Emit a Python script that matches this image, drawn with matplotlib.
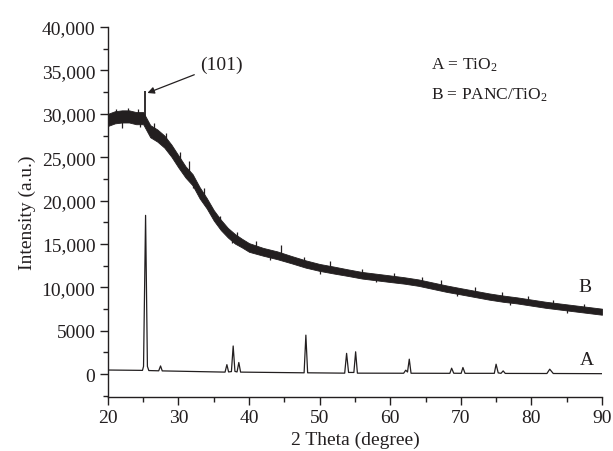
"""XRD patterns of TiO2 (A) and PANC/TiO2 (B)."""

import matplotlib

matplotlib.use("Agg")
import matplotlib.pyplot as plt
import numpy as np
from matplotlib.ticker import FuncFormatter, MultipleLocator

# curve A: TiO2, baseline points plus the reflections
a_theta = [20.0, 24.9, 25.05, 25.34, 25.6, 25.8, 27.2, 27.46, 27.7,
           36.6, 36.86, 37.1, 37.5, 37.75, 38.0, 38.3, 38.55, 38.8,
           47.8, 48.05, 48.3, 53.55, 53.82, 54.1, 54.85, 55.1, 55.35,
           61.9, 62.2, 62.45, 62.7, 62.95, 68.45, 68.7, 69.0,
           70.05, 70.3, 70.6, 74.75, 75.0, 75.3, 75.7, 76.0, 76.3,
           82.2, 82.6, 83.1, 90.0]
a_counts = [480, 440, 900, 18300, 900, 420, 390, 950, 380,
            240, 1100, 260, 300, 3250, 320, 260, 1350, 240,
            160, 4500, 160, 120, 2400, 200, 200, 2580, 120,
            110, 460, 250, 1730, 110, 100, 690, 110,
            100, 770, 100, 100, 1150, 150, 100, 380, 90,
            80, 575, 80, 60]

# curve B: PANC/TiO2, centre of the noisy trace and its half-width
b_theta = [20, 21, 22, 23, 24, 25, 26, 27, 28, 29, 30,
           31, 32, 33, 34, 35, 36, 37, 38, 39, 40, 42, 44, 46, 48, 50,
           52, 54, 56, 58, 60, 62, 64, 66, 68, 70, 72, 74, 76, 78, 80,
           82, 84, 86, 88, 90]
b_counts = [29300, 29600, 29700, 29700, 29500, 29500,
            28000, 27500, 26800, 25750, 24500, 23300, 22400, 20900, 19700,
            18300, 17200, 16300, 15600, 15100, 14600, 14100, 13700, 13200,
            12700, 12300, 12000, 11700, 11400, 11200, 11000, 10800, 10550,
            10200, 9850, 9550, 9250, 8950, 8700, 8500, 8250, 8000, 7800,
            7600, 7400, 7200]
b_spread = [700, 700, 700, 700, 700, 700, 700, 700, 700, 700,
            700, 650, 650, 650, 600, 600, 600, 550, 550, 500, 500, 450,
            450, 420, 420, 400, 400, 380, 380, 380, 380, 370, 370, 370, 370,
            360, 360, 360, 360, 350, 350, 350, 350, 350, 350, 350]

# the (101) reflection on B and the larger noise spikes of the trace
b_peak_theta = 25.3
b_peak_top = 32600
spike_theta = [21.2, 22.0, 22.8, 24.3, 24.6, 26.6, 28.3, 29.5, 30.2, 31.5,
               32.0, 33.6, 35.9, 37.6, 38.3, 41.0, 43.0, 44.5, 47.8, 50.0,
               51.5, 56.0, 58.0, 60.5, 64.5, 67.2, 69.5, 72.0, 75.8, 77.0,
               79.5, 83.0, 85.0, 87.5]
spike_top = [30600, 28400, 30700, 30500, 28500, 28900, 27800, 24700, 25600,
             24600, 21400, 21500, 18200, 15100, 16400, 15300, 13200, 14900,
             13500, 11600, 13000, 12100, 10600, 11700, 11200, 10800, 9000,
             10000, 9500, 8000, 9000, 8500, 7100, 8100]

INK = "#231f20"

plt.rcParams["font.family"] = ["Liberation Serif", "DejaVu Serif"]
plt.rcParams["mathtext.fontset"] = "custom"
plt.rcParams["mathtext.rm"] = "Liberation Serif"
plt.rcParams["mathtext.it"] = "Liberation Serif:italic"

fig = plt.figure(figsize=(6.13, 4.52), dpi=100)
ax = fig.add_axes([0.176, 0.12, 0.806, 0.818])

lo = [c - s for c, s in zip(b_counts, b_spread)]
hi = [c + s for c, s in zip(b_counts, b_spread)]
ax.fill_between(b_theta, lo, hi, color=INK, lw=0.6)
ax.plot(b_theta, b_counts, color=INK, lw=1.2)
spike_base = np.interp(spike_theta, b_theta, b_counts)
ax.vlines(spike_theta, spike_base, spike_top, color=INK, lw=0.9)
ax.vlines(b_peak_theta, np.interp(b_peak_theta, b_theta, b_counts), b_peak_top,
          color=INK, lw=1.3)
ax.plot(a_theta, a_counts, color=INK, lw=0.9)

ax.set_xlim(20, 90)
ax.set_ylim(-2600, 40000)
ax.xaxis.set_major_locator(MultipleLocator(10))
ax.xaxis.set_minor_locator(MultipleLocator(5))
ax.yaxis.set_major_locator(MultipleLocator(5000))
ax.yaxis.set_minor_locator(MultipleLocator(2500))
ax.yaxis.set_major_formatter(
    FuncFormatter(lambda v, _: f"{int(v):,}" if v >= 10000 else f"{int(v)}"))

for side in ("top", "right"):
    ax.spines[side].set_visible(False)
for side in ("left", "bottom"):
    ax.spines[side].set_color(INK)
    ax.spines[side].set_linewidth(1.0)
ax.tick_params(which="major", direction="out", length=6, width=1.0,
               colors=INK, labelsize=14, pad=3)
ax.tick_params(which="minor", direction="out", length=3.5, width=1.0, colors=INK)

ax.set_xlabel("2 Theta (degree)", fontsize=14, color=INK, labelpad=3)
ax.set_ylabel("Intensity (a.u.)", fontsize=14, color=INK, labelpad=4)

ax.annotate("(101)", xy=(25.6, 32400), xytext=(33.0, 35700),
            fontsize=14, color=INK, ha="left", va="center",
            arrowprops=dict(arrowstyle="-|>", color=INK, lw=0.9,
                            mutation_scale=10, shrinkA=2, shrinkB=0))
ax.text(65.8, 35700, "A = TiO$_2$", fontsize=12.5, color=INK, va="center")
ax.text(65.8, 32300, "B = PANC/TiO$_2$", fontsize=12.5, color=INK, va="center")
ax.text(87.6, 10150, "B", fontsize=14, color=INK, ha="center", va="center")
ax.text(87.8, 1730, "A", fontsize=14, color=INK, ha="center", va="center")

fig.savefig("out.png", dpi=100)
